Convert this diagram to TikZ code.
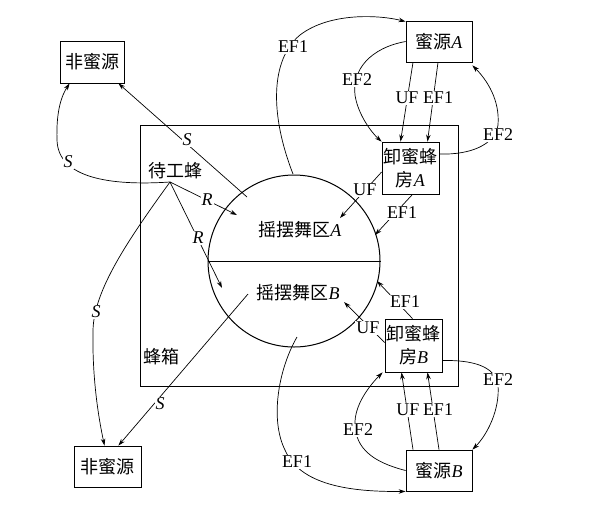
\documentclass[tikz,border=0pt]{standalone}
\usepackage{fontspec}
\setmainfont{Liberation Serif}
\newfontfamily\cjk{Noto Sans CJK SC}
\usetikzlibrary{arrows.meta}
\newcommand\zh[1]{{\cjk #1}}
\begin{document}
\begin{tikzpicture}[x=1pt,y=-1pt,
  box/.style={draw, line width=0.8pt, inner sep=0pt, align=center,
    font=\fontsize{18}{23}\selectfont},
  txt/.style={inner sep=0pt, font=\fontsize{18}{20}\selectfont},
  lbl/.style={fill=white, inner sep=1pt, font=\fontsize{18}{19}\selectfont},
  conn/.style={line width=0.7pt, -{Stealth[length=7pt,width=4.5pt]}}]
\useasboundingbox (0,0) rectangle (589,512);
% hive
\draw[line width=0.9pt] (140,125) rectangle (458,386);
% boxes
\node[box, minimum width=64pt, minimum height=42pt] (nonA) at (92,62) {\zh{非蜜源}};
\node[box, minimum width=67pt, minimum height=41pt] (nonB) at (107.5,466.5) {\zh{非蜜源}};
\node[box, minimum width=66pt, minimum height=41pt] (srcA) at (439,41.5) {\zh{蜜源}\textit{A}};
\node[box, minimum width=66pt, minimum height=41pt] (srcB) at (439,470.5) {\zh{蜜源}\textit{B}};
\node[box, minimum width=57pt, minimum height=52pt] (unA) at (410.5,168) {\zh{卸蜜蜂}\\\zh{房}\textit{A}};
\node[box, minimum width=57pt, minimum height=53pt] (unB) at (413.5,345.5) {\zh{卸蜜蜂}\\\zh{房}\textit{B}};
% dance circle
\node[draw, circle, line width=1pt, minimum size=172pt, inner sep=0pt] (dance) at (294,261) {};
\draw[line width=1pt] (dance.west) -- (dance.east);
\node[txt] (dA) at (300,230) {\zh{摇摆舞区}\textit{A}};
\node[txt] (dB) at (298,293) {\zh{摇摆舞区}\textit{B}};
\node[txt] (wait) at (175,171) {\zh{待工蜂}};
\node[txt] (hive) at (161,357) {\zh{蜂箱}};
% free ends
\coordinate (w) at (170,182);
\coordinate (sa) at (247,197);
\coordinate (ra) at (237,215);
\coordinate (rb) at (222,288);
\coordinate (sb) at (248,294);
\coordinate (ta) at (293,174);
\coordinate (tb) at (297,337);
\coordinate (ufa) at (340,218);
\coordinate (efa) at (375,235);
\coordinate (efb) at (377,281);
\coordinate (ufb) at (344,302);
% S connectors
\draw[conn] (w) .. controls (110,186) and (58,178) .. (57,140) .. controls (56,110) and (62,95) .. ([xshift=10pt]nonA.south west);
\draw[conn] (sa) -- ([xshift=-6pt]nonA.south east);
\draw[conn] (w) .. controls (128,240) and (94,290) .. (93,330) .. controls (92,380) and (99,420) .. ([xshift=-3pt]nonB.north);
\draw[conn] (sb) -- ([xshift=-23pt]nonB.north east);
% R connectors
\draw[conn] (w) -- (ra);
\draw[conn] (w) -- (rb);
% A side
\draw[conn] (ta) .. controls (270,115) and (270,60) .. (300,35) .. controls (330,12) and (380,15) .. ([yshift=-1pt]srcA.north west);
\draw[conn] (srcA.west) .. controls (370,48) and (352,70) .. (355,95) .. controls (358,115) and (372,133) .. (unA.north west);
\draw[conn] ([xshift=-26pt]srcA.south) -- ([xshift=-10pt]unA.north);
\draw[conn] ([xshift=-1pt]srcA.south) -- ([xshift=17pt]unA.north);
\draw[conn] ([yshift=14pt]unA.east) .. controls (470,155) and (495,145) .. (498,125) .. controls (500,100) and (487,80) .. ([yshift=-3pt]srcA.south east);
\draw[conn] ([yshift=-4pt]unA.west) -- (ufa);
\draw[conn] ([xshift=2pt]unA.south) -- (efa);
% B side
\draw[conn] ([xshift=-1pt]unB.north) -- (efb);
\draw[conn] ([yshift=3pt]unB.west) -- (ufb);
\draw[conn] ([yshift=-15pt]unB.east) .. controls (470,360) and (495,365) .. (498,385) .. controls (500,410) and (487,435) .. (srcB.north east);
\draw[conn] ([xshift=-26pt]srcB.north) -- ([xshift=-12pt]unB.south);
\draw[conn] ([xshift=0pt]srcB.north) -- ([xshift=14pt]unB.south);
\draw[conn] (srcB.west) .. controls (372,462) and (356,448) .. (355,425) .. controls (354,405) and (370,385) .. ([xshift=-2pt]unB.south west);
\draw[conn] (tb) .. controls (278,370) and (270,420) .. (285,450) .. controls (300,485) and (350,492) .. (srcB.south west);
% labels
\node[lbl] (l1) at (68,162) {\textit{S}};
\node[lbl] (l2) at (187,140) {\textit{S}};
\node[lbl] (l3) at (96,312) {\textit{S}};
\node[lbl] (l4) at (160,404) {\textit{S}};
\node[lbl] (l5) at (207,200) {\textit{R}};
\node[lbl] (l6) at (198,238) {\textit{R}};
\node[lbl] (l7) at (293,47) {EF1};
\node[lbl] (l8) at (357,80) {EF2};
\node[lbl] (l9) at (407,98) {UF};
\node[lbl] (l10) at (438,98) {EF1};
\node[lbl] (l11) at (498,135) {EF2};
\node[lbl] (l12) at (365,190) {UF};
\node[lbl] (l13) at (402,213) {EF1};
\node[lbl] (l14) at (405,302) {EF1};
\node[lbl] (l15) at (368,328) {UF};
\node[lbl] (l16) at (498,380) {EF2};
\node[lbl] (l17) at (408,410) {UF};
\node[lbl] (l18) at (438,410) {EF1};
\node[lbl] (l19) at (358,430) {EF2};
\node[lbl] (l20) at (297,462) {EF1};
\end{tikzpicture}
\end{document}
